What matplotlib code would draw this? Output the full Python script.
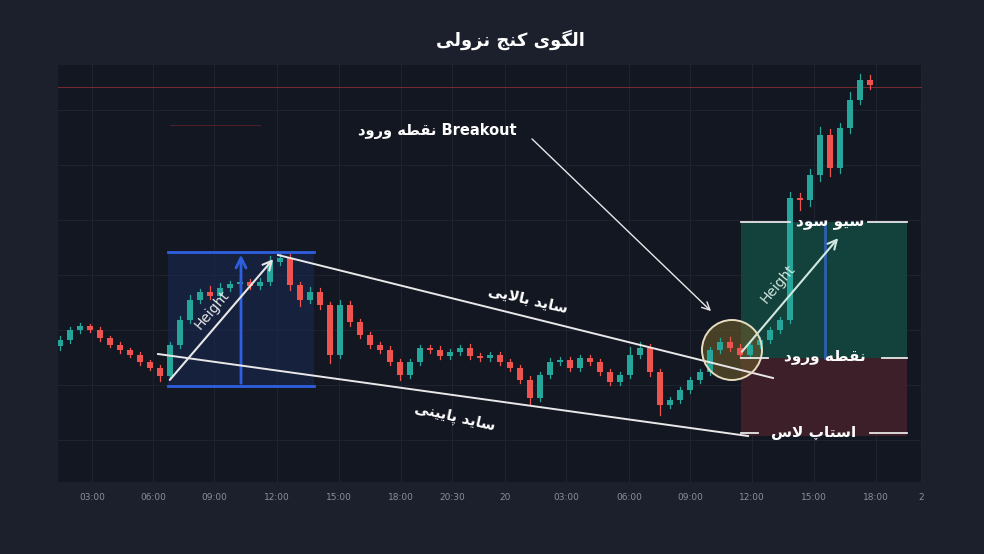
import matplotlib
matplotlib.use("Agg")
import matplotlib.pyplot as plt
from matplotlib.patches import Rectangle, Ellipse

# ---------------- data ----------------
closes = [214, 224, 228, 224, 216, 209, 204, 199, 192, 186, 178, 209, 234, 254, 262, 258,
          266, 270, 272, 268, 272, 292, 296, 269, 254, 262, 249, 199, 249, 232, 219, 209,
          204, 192, 179, 192, 206, 204, 198, 202, 206, 198, 196, 199, 192, 186, 174, 156,
          179, 192, 194, 186, 196, 192, 182, 172, 179, 199, 206, 182, 149, 154, 164, 174,
          182, 204, 212, 206, 199, 209, 214, 224, 234, 356, 354, 379, 419, 386, 426, 454,
          474, 469]
first_open = 208
wick_up = [4, 3, 3, 2, 3, 2, 3, 2, 3, 2, 3, 3, 4, 5, 3, 6, 5, 3, 4, 3, 4, 6, 5, 4, 3, 5,
           4, 3, 5, 4, 3, 3, 3, 4, 3, 3, 3, 3, 4, 3, 3, 4, 3, 3, 3, 3, 3, 4, 3, 4, 3, 3,
           3, 3, 3, 3, 3, 8, 6, 4, 3, 3, 3, 3, 3, 3, 4, 5, 4, 3, 3, 3, 3, 6, 5, 6, 8, 6,
           5, 8, 6, 5]
wick_dn = [4, 3, 3, 2, 3, 2, 3, 2, 3, 2, 5, 3, 3, 3, 3, 3, 3, 3, 3, 3, 3, 3, 3, 5, 6, 3,
           4, 8, 3, 4, 3, 3, 3, 3, 5, 3, 3, 3, 3, 3, 3, 3, 3, 3, 3, 3, 3, 6, 3, 3, 3, 3,
           3, 3, 3, 3, 3, 3, 3, 4, 10, 3, 3, 3, 3, 3, 3, 3, 3, 3, 3, 3, 3, 3, 10, 6, 6, 8,
           5, 5, 4, 4]
tick_labels = ["03:00", "06:00", "09:00", "12:00", "15:00", "18:00", "20:30", "20",
               "03:00", "06:00", "09:00", "12:00", "15:00", "18:00", "2"]
tick_px = [92, 153, 214, 277, 339, 401, 452, 505, 566, 629, 690, 752, 814, 876, 921]

# ---------------- Persian shaping ----------------
FORMS = {  # isolated, final, initial, medial
    'ا': ('\uFE8D', '\uFE8E', None, None), 'آ': ('\uFE81', '\uFE82', None, None),
    'د': ('\uFEA9', '\uFEAA', None, None), 'ر': ('\uFEAD', '\uFEAE', None, None),
    'ز': ('\uFEAF', '\uFEB0', None, None), 'و': ('\uFEED', '\uFEEE', None, None),
    'ب': ('\uFE8F', '\uFE90', '\uFE91', '\uFE92'), 'پ': ('\uFB56', '\uFB57', '\uFB58', '\uFB59'),
    'ت': ('\uFE95', '\uFE96', '\uFE97', '\uFE98'), 'ج': ('\uFE9D', '\uFE9E', '\uFE9F', '\uFEA0'),
    'س': ('\uFEB1', '\uFEB2', '\uFEB3', '\uFEB4'), 'ط': ('\uFEC1', '\uFEC2', '\uFEC3', '\uFEC4'),
    'ق': ('\uFED5', '\uFED6', '\uFED7', '\uFED8'), 'ک': ('\uFB8E', '\uFB8F', '\uFB90', '\uFB91'),
    'گ': ('\uFB92', '\uFB93', '\uFB94', '\uFB95'), 'ل': ('\uFEDD', '\uFEDE', '\uFEDF', '\uFEE0'),
    'ن': ('\uFEE5', '\uFEE6', '\uFEE7', '\uFEE8'), 'ه': ('\uFEE9', '\uFEEA', '\uFEEB', '\uFEEC'),
    'ی': ('\uFBFC', '\uFBFD', '\uFBFE', '\uFBFF'),
}


def shape(s):
    out = []
    for i, ch in enumerate(s):
        f = FORMS.get(ch)
        if f is None:
            out.append(ch)
            continue
        prev = s[i - 1] if i > 0 else ''
        nxt = s[i + 1] if i + 1 < len(s) else ''
        jp = prev in FORMS and FORMS[prev][2] is not None
        jn = nxt in FORMS and f[2] is not None
        if jp and jn:
            out.append(f[3])
        elif jp:
            out.append(f[1])
        elif jn:
            out.append(f[2])
        else:
            out.append(f[0])
    t = ''.join(out).replace('\uFEDF\uFE8E', '\uFEFB').replace('\uFEE0\uFE8E', '\uFEFC')
    return t[::-1]


# ---------------- figure ----------------
W, H = 984, 554
fig = plt.figure(figsize=(W / 100, H / 100), dpi=100, facecolor='#1c202c')
ax_l, ax_r, ax_t, ax_b = 58, 922, 65, 482
ax = fig.add_axes([ax_l / W, 1 - ax_b / H, (ax_r - ax_l) / W, (ax_b - ax_t) / H])
ax.set_facecolor('#131722')
ax.set_xlim((ax_l - 60) / 10, (ax_r - 60) / 10)
ax.set_ylim(H - ax_b, H - ax_t)


def X(p):
    return (p - 60) / 10


def Y(p):
    return H - p


for s in ax.spines.values():
    s.set_visible(False)
ax.set_yticks([])
ax.set_xticks([X(p) for p in tick_px])
ax.set_xticklabels(tick_labels, color='#8a8f9c', fontsize=6.5)
ax.tick_params(axis='x', length=0, pad=8)
for p in tick_px:
    ax.axvline(X(p), color='#1f2330', lw=0.8, zorder=0)
for yy in [110, 165, 220, 275, 330, 385, 440]:
    ax.axhline(Y(yy), color='#1f2330', lw=0.8, zorder=0)
ax.axhline(Y(87), color='#7a2a33', lw=0.7, zorder=1)
ax.plot([X(170), X(260)], [Y(125), Y(125)], color='#4a2028', lw=0.8, zorder=1)

# boxes behind candles
ax.add_patch(Rectangle((X(168), Y(386)), X(314) - X(168), Y(252) - Y(386),
                       color='#1a2a55', alpha=0.55, zorder=1, lw=0))
ax.add_patch(Rectangle((X(741), Y(358)), X(907) - X(741), Y(222) - Y(358),
                       color='#14463f', alpha=0.9, zorder=1, lw=0))
ax.add_patch(Rectangle((X(741), Y(436)), X(907) - X(741), Y(358) - Y(436),
                       color='#42202b', alpha=0.9, zorder=1, lw=0))

# candles
green, red = '#26a69a', '#ef5350'
opens = [first_open] + closes[:-1]
for i, (o, c) in enumerate(zip(opens, closes)):
    col = green if c >= o else red
    hi = max(o, c) + wick_up[i]
    lo = min(o, c) - wick_dn[i]
    ax.plot([i, i], [lo, hi], color=col, lw=0.9, zorder=3)
    ax.add_patch(Rectangle((i - 0.3, min(o, c)), 0.6, max(abs(c - o), 1.2),
                           color=col, zorder=3, lw=0))

blue = '#2f5fe0'
ax.plot([X(168), X(314)], [Y(252), Y(252)], color=blue, lw=2, zorder=4)
ax.plot([X(168), X(314)], [Y(386), Y(386)], color=blue, lw=2, zorder=4)
ax.annotate('', xy=(X(241), Y(252)), xytext=(X(241), Y(386)),
            arrowprops=dict(arrowstyle='->', color=blue, lw=2, mutation_scale=18), zorder=4)
ax.plot([X(825), X(825)], [Y(224), Y(358)], color='#2f5fb0', lw=2, zorder=4)

white = '#e8e8e8'
ax.annotate('', xy=(X(275), Y(257)), xytext=(X(168), Y(382)),
            arrowprops=dict(arrowstyle='->', color=white, lw=1.5, mutation_scale=16), zorder=5)
ax.annotate('', xy=(X(840), Y(236)), xytext=(X(740), Y(354)),
            arrowprops=dict(arrowstyle='->', color='#cfe8e0', lw=1.5, mutation_scale=16), zorder=5)
ax.plot([X(278), X(773)], [Y(255), Y(378)], color=white, lw=1.4, zorder=5)
ax.plot([X(158), X(748)], [Y(354), Y(436)], color=white, lw=1.4, zorder=5)
ax.annotate('', xy=(X(713), Y(313)), xytext=(X(530), Y(137)),
            arrowprops=dict(arrowstyle='->', color=white, lw=1.0, mutation_scale=14), zorder=5)
ax.add_patch(Ellipse((X(732), Y(350)), 6.0, 60, facecolor='#6b5a2a', alpha=0.6,
                     edgecolor='none', zorder=2))
ax.add_patch(Ellipse((X(732), Y(350)), 6.0, 60, facecolor='none',
                     edgecolor='#e6dcc0', lw=1.4, zorder=6))

for y, segs in [(222, [(741, 790), (868, 907)]), (358, [(741, 768), (882, 907)]),
                (433, [(741, 758), (870, 907)])]:
    for a, b in segs:
        ax.plot([X(a), X(b)], [Y(y), Y(y)], color=white, lw=1.3, zorder=6)

fa = ['DejaVu Sans']
tk = dict(color='white', fontweight='bold', ha='center', va='center', family=fa, zorder=7)
ax.text(X(830), Y(221), shape('سیو سود'), fontsize=11, **tk)
ax.text(X(825), Y(357), shape('نقطه ورود'), fontsize=11, **tk)
ax.text(X(814), Y(432), shape('استاپ لاس'), fontsize=11, **tk)
ax.text(X(437), Y(131), shape('نقطه ورود') + ' Breakout', fontsize=10.5, **tk)
ax.text(X(528), Y(300), shape('ساید بالایی'), fontsize=10.5, rotation=-13, **tk)
ax.text(X(455), Y(418), shape('ساید پایینی'), fontsize=10.5, rotation=-13, **tk)
ax.text(X(212), Y(310), 'Height', fontsize=10, color=white, rotation=50,
        ha='center', va='center', zorder=7)
ax.text(X(778), Y(284), 'Height', fontsize=10, color='#cfe8e0', rotation=50,
        ha='center', va='center', zorder=7)

fig.text(510 / W, 1 - 40 / H, shape('الگوی کنج نزولی'), color='white', fontsize=13,
         fontweight='bold', ha='center', va='center', family=fa)

fig.savefig('out.png', dpi=100, facecolor=fig.get_facecolor())
